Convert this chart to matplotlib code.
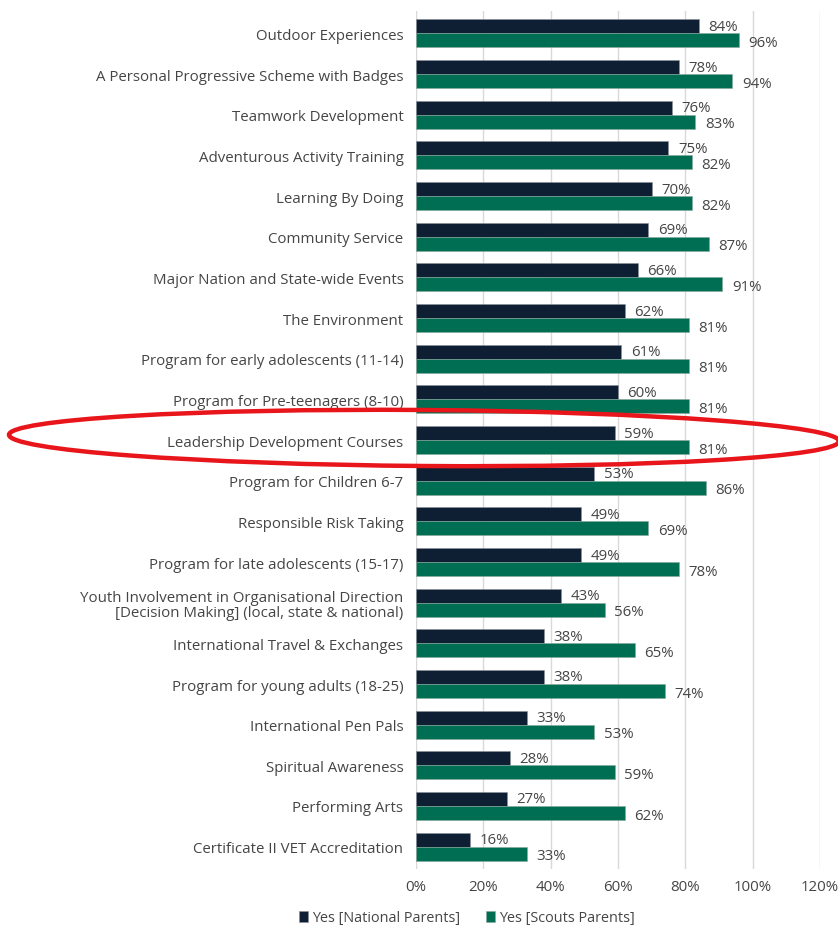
import matplotlib.pyplot as plt
from matplotlib.patches import Ellipse
import numpy as np

plt.rcParams['font.family'] = ['Open Sans', 'DejaVu Sans']

categories = [
    'Outdoor Experiences',
    'A Personal Progressive Scheme with Badges',
    'Teamwork Development',
    'Adventurous Activity Training',
    'Learning By Doing',
    'Community Service',
    'Major Nation and State-wide Events',
    'The Environment',
    'Program for early adolescents (11-14)',
    'Program for Pre-teenagers (8-10)',
    'Leadership Development Courses',
    'Program for Children 6-7',
    'Responsible Risk Taking',
    'Program for late adolescents (15-17)',
    'Youth Involvement in Organisational Direction\n[Decision Making] (local, state & national)',
    'International Travel & Exchanges',
    'Program for young adults (18-25)',
    'International Pen Pals',
    'Spiritual Awareness',
    'Performing Arts',
    'Certificate II VET Accreditation',
]
national = [84, 78, 76, 75, 70, 69, 66, 62, 61, 60, 59, 53, 49, 49, 43, 38, 38, 33, 28, 27, 16]
scouts = [96, 94, 83, 82, 82, 87, 91, 81, 81, 81, 81, 86, 69, 78, 56, 65, 74, 53, 59, 62, 33]
xticks = [0, 20, 40, 60, 80, 100, 120]

navy = '#0f1f33'
green = '#006e52'
grey = '#454545'
fs = 10.8

fig = plt.figure(figsize=(8.38, 9.29), dpi=100)
ax = fig.add_axes([0.4964, 0.0635, 0.4821, 0.9235])

y = np.arange(len(categories))
h = 0.345
ax.barh(y - h / 2, national, height=h, color=navy, edgecolor='#8a9099', linewidth=0.4,
        label='Yes [National Parents]', zorder=3)
ax.barh(y + h / 2, scouts, height=h, color=green, edgecolor='#8aa89c', linewidth=0.4,
        label='Yes [Scouts Parents]', zorder=3)

for i in range(len(categories)):
    ax.text(national[i] + 2.8, y[i] - h / 2, f'{national[i]}%', va='center', ha='left',
            fontsize=fs, color=grey)
    ax.text(scouts[i] + 2.8, y[i] + h / 2 + 0.05, f'{scouts[i]}%', va='center', ha='left',
            fontsize=fs, color=grey)

ax.set_xlim(0, 120)
ax.set_ylim(len(categories) - 0.45, -0.55)
ax.set_xticks(xticks)
ax.set_xticklabels([f'{t}%' for t in xticks], fontsize=fs, color=grey)
ax.set_yticks(y)
ax.set_yticklabels(categories, fontsize=fs, color=grey, linespacing=1.0)
ax.tick_params(axis='both', length=0)
ax.tick_params(axis='y', pad=9)
ax.tick_params(axis='x', pad=7)
ax.grid(axis='x', color='#d9d9d9', linewidth=1, zorder=0)
for s in ax.spines.values():
    s.set_visible(False)

fig.legend(loc='center', bbox_to_anchor=(467 / 838, 1 - 919 / 929), ncol=2, frameon=False,
           fontsize=10.4, handlelength=0.6, handleheight=0.7, handletextpad=0.3,
           columnspacing=1.8, labelcolor=grey)

ell = Ellipse((424 / 838, 1 - 439 / 929), 830 / 838, 56 / 929, angle=-0.4,
              transform=fig.transFigure, fill=False, edgecolor='#e8151b', linewidth=3.2,
              zorder=10)
fig.patches.append(ell)

fig.savefig('out.png', dpi=100)
